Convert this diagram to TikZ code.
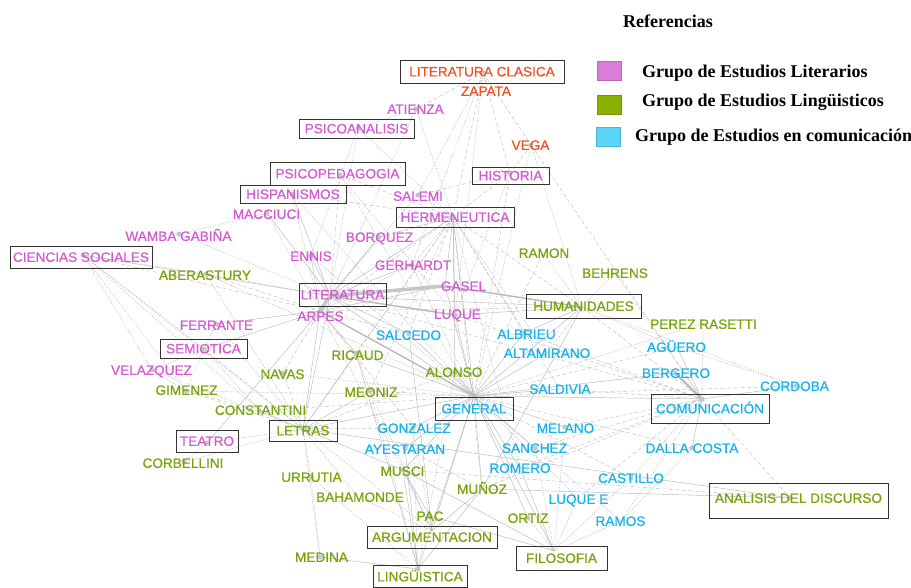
\documentclass[tikz,border=0pt]{standalone}
\usepackage{fontspec}
\setmainfont{Liberation Serif}
\newfontfamily\labfont[FakeBold=0.6]{Liberation Sans}
\definecolor{cpink}{RGB}{211,90,210}
\definecolor{cgreen}{RGB}{120,163,10}
\definecolor{cblue}{RGB}{22,178,235}
\definecolor{corange}{RGB}{240,80,34}
\definecolor{lpink}{RGB}{218,124,218}
\definecolor{lgreen}{RGB}{138,176,0}
\definecolor{lcyan}{RGB}{92,212,247}
\tikzset{
  lab/.style={font=\labfont\fontsize{13.6}{14}\selectfont, inner sep=0pt, text height=9.74pt, text depth=0pt, anchor=center},
  lp/.style={lab, text=cpink},
  lg/.style={lab, text=cgreen},
  lb/.style={lab, text=cblue},
  lo/.style={lab, text=corange},
  bx/.style={draw=black!80, line width=0.9pt},
  es/.style={draw=gray!55, line width=0.45pt},
  ed/.style={draw=gray!50, line width=0.45pt, dash pattern=on 4pt off 2.5pt},
  et/.style={draw=gray!60, line width=0.5pt, dash pattern=on 1pt off 1.5pt},
  em/.style={draw=gray!55, line width=1.4pt},
  eh/.style={draw=gray!45, line width=3.5pt},
  dotc/.style={fill=gray!45},
  legsq/.style={minimum width=24pt, minimum height=19pt, inner sep=0pt, anchor=north west},
  legtx/.style={font=\bfseries\fontsize{18}{20}\selectfont, anchor=base west, inner sep=0pt}
}
\begin{document}
\begin{tikzpicture}[x=1pt,y=-1pt]
\useasboundingbox (0,0) rectangle (911,587);
% ---------- dot coordinates
\coordinate (litclas) at (483,73);
\coordinate (zapata) at (487,86);
\coordinate (atienza) at (416,109);
\coordinate (psicoan) at (358,128);
\coordinate (psicoped) at (340,175);
\coordinate (hispan) at (292,194);
\coordinate (salemi) at (418,195);
\coordinate (historia) at (510,173);
\coordinate (vega) at (531,145);
\coordinate (herm) at (453,217);
\coordinate (macc) at (267,213);
\coordinate (wamba) at (179,234);
\coordinate (borq) at (379,237);
\coordinate (ennis) at (311,256);
\coordinate (cienc) at (83,255);
\coordinate (aber) at (206,274);
\coordinate (gerh) at (412,265);
\coordinate (gasel) at (445,286);
\coordinate (lit) at (330,296);
\coordinate (arpes) at (320,311);
\coordinate (luque) at (455,315);
\coordinate (salc) at (409,334);
\coordinate (ferr) at (216,324);
\coordinate (semio) at (204,349);
\coordinate (velaz) at (152,370);
\coordinate (gimen) at (186,391);
\coordinate (navas) at (283,373);
\coordinate (const) at (260,411);
\coordinate (teatro) at (207,443);
\coordinate (corb) at (184,462);
\coordinate (letras) at (303,429);
\coordinate (ricaud) at (356,353);
\coordinate (meoniz) at (370,391);
\coordinate (alonso) at (455,372);
\coordinate (gen) at (474,396);
\coordinate (gonz) at (413,428);
\coordinate (ayest) at (405,448);
\coordinate (musci) at (403,470);
\coordinate (urrut) at (311,477);
\coordinate (baham) at (358,497);
\coordinate (pac) at (430,516);
\coordinate (argum) at (432,531);
\coordinate (ling) at (418,569);
\coordinate (medina) at (320,557);
\coordinate (munoz) at (482,489);
\coordinate (ortiz) at (528,518);
\coordinate (filos) at (554,551);
\coordinate (romero) at (520,468);
\coordinate (sanchez) at (535,448);
\coordinate (melano) at (565,427);
\coordinate (saldiv) at (560,389);
\coordinate (albrieu) at (524,333);
\coordinate (altam) at (547,353);
\coordinate (human) at (582,307);
\coordinate (ramon) at (543,253);
\coordinate (behrens) at (615,273);
\coordinate (perez) at (703,323);
\coordinate (aguero) at (677,347);
\coordinate (bergero) at (675,373);
\coordinate (comun) at (702,399);
\coordinate (cordoba) at (796,386);
\coordinate (dalla) at (692,448);
\coordinate (castillo) at (631,478);
\coordinate (luquee) at (578,498);
\coordinate (ramos) at (621,521);
\coordinate (analisis) at (790,498);
% ---------- edges
\foreach \a/\b in {herm/gen, herm/luque, herm/lit, herm/alonso, herm/gasel, gen/saldiv, gen/bergero, gen/altam, gen/albrieu, gen/human, gen/melano, gen/sanchez, gen/romero, gen/munoz, gen/ortiz, gen/gonz, gen/ayest, gen/comun, gen/filos, gen/ling, gen/argum, gen/musci, lit/gen, lit/human, lit/letras, lit/salc, cienc/lit, macc/lit, hispan/lit, borq/lit, ennis/lit, ennis/arpes, gerh/lit, gasel/gen, gasel/arpes, arpes/letras, arpes/ferr, arpes/semio, arpes/teatro, arpes/ricaud, luque/gen, luque/human, const/letras, letras/gen, letras/ricaud, letras/meoniz, letras/musci, letras/analisis, ricaud/ling, ricaud/gen, alonso/gen, salc/gen, salc/argum, ayest/ling, musci/ling, musci/pac, musci/argum, musci/filos, pac/filos, pac/argum, munoz/ling, munoz/argum, munoz/human, munoz/analisis, medina/ling, romero/filos, albrieu/human, aguero/comun, cordoba/comun, comun/dalla}
  \draw[es] (\a) -- (\b);
\foreach \a/\b in {herm/salc, herm/arpes, herm/albrieu, herm/human, herm/borq, herm/historia, herm/meoniz, herm/munoz, herm/letras, litclas/atienza, litclas/herm, litclas/historia, litclas/vega, psicoped/herm, psicoped/lit, hispan/herm, vega/historia, vega/comun, historia/salemi, historia/gen, borq/herm, cienc/arpes, aber/arpes, lit/comun, arpes/navas, arpes/salc, arpes/human, arpes/gonz, luque/comun, semio/letras, gimen/letras, gimen/const, navas/letras, const/gen, letras/gonz, letras/alonso, meoniz/gen, ayest/munoz, musci/analisis, munoz/comun, romero/comun, sanchez/comun, melano/comun, saldiv/comun, albrieu/comun, human/comun, ramon/gen, gen/cordoba, gen/castillo, gen/dalla, gen/aguero, comun/analisis, comun/luquee}
  \draw[ed] (\a) -- (\b);
\foreach \a/\b in {herm/gerh, herm/altam, herm/salemi, herm/ricaud, herm/saldiv, herm/romero, litclas/zapata, litclas/salemi, litclas/gerh, litclas/luque, atienza/psicoan, atienza/herm, atienza/lit, psicoan/herm, psicoan/lit, psicoan/ennis, psicoped/luque, psicoped/gen, hispan/arpes, hispan/gen, vega/gen, vega/human, historia/luque, salemi/lit, macc/wamba, macc/arpes, wamba/lit, cienc/aber, cienc/gimen, cienc/velaz, cienc/semio, cienc/letras, cienc/const, aber/lit, aber/letras, aber/gen, borq/arpes, ennis/gen, gerh/arpes, gerh/gen, arpes/musci, ferr/semio, ferr/letras, semio/velaz, semio/gimen, semio/const, velaz/gimen, velaz/letras, gimen/gen, navas/gen, teatro/letras, teatro/corb, corb/letras, letras/urrut, letras/baham, letras/argum, letras/medina, ricaud/meoniz, meoniz/ling, meoniz/argum, alonso/ling, gonz/argum, gonz/ling, urrut/medina, urrut/ling, baham/argum, ortiz/filos, sanchez/filos, melano/filos, altam/human, human/behrens, human/ramon, human/aguero, human/cordoba, behrens/comun, perez/comun, aguero/cordoba, comun/castillo, comun/ramos, dalla/ramos, castillo/filos, luquee/filos, luquee/gen, ramos/filos, gen/ramos, gen/perez}
  \draw[et] (\a) -- (\b);
\draw[em] (lit) -- (luque);
\draw[em] (gasel) -- (human);
\draw[em] (arpes) -- (gen);
\draw[draw=gray!55, line width=2.2pt] (bergero) -- (comun);
\draw[eh] (lit) -- (gasel);
\draw[eh] (lit) -- (arpes);
% ---------- dots
\foreach \n in {litclas, atienza, psicoan, psicoped, hispan, salemi, historia, vega, herm, macc, wamba, borq, ennis, cienc, aber, gerh, luque, salc, ferr, semio, velaz, gimen, navas, const, teatro, corb, letras, ricaud, meoniz, alonso, gonz, ayest, musci, urrut, pac, ling, medina, ortiz, sanchez, melano, albrieu, bergero, comun, cordoba, dalla, castillo, analisis}
  \fill[dotc] (\n) circle (2.6pt);
% ---------- boxed labels
\node[bx, lo, minimum width=164pt, minimum height=23pt] (litclasL) at (482,71.5) {LITERATURA CLASICA};
\node[bx, lp, minimum width=115pt, minimum height=19pt] (psicoanL) at (356.5,128.5) {PSICOANALISIS};
\node[bx, lp, minimum width=135pt, minimum height=23pt] (psicopedL) at (337.5,173.5) {PSICOPEDAGOGIA};
\node[bx, lp, minimum width=106pt, minimum height=18pt] (hispanL) at (293,194) {HISPANISMOS};
\node[bx, lp, minimum width=77pt, minimum height=17pt] (historiaL) at (510.5,175.5) {HISTORIA};
\node[bx, lp, minimum width=118pt, minimum height=20pt] (hermL) at (455,217) {HERMENEUTICA};
\node[bx, lp, minimum width=142pt, minimum height=22pt] (ciencL) at (81,257) {CIENCIAS SOCIALES};
\node[bx, lp, minimum width=87pt, minimum height=23pt] (litL) at (342.5,294.5) {LITERATURA};
\node[bx, lg, minimum width=115pt, minimum height=24pt] (humanL) at (583.5,306) {HUMANIDADES};
\node[bx, lp, minimum width=87pt, minimum height=19pt] (semioL) at (203.5,348.5) {SEMIOTICA};
\node[bx, lp, minimum width=62pt, minimum height=22pt] (teatroL) at (207,441) {TEATRO};
\node[bx, lg, minimum width=68pt, minimum height=21pt] (letrasL) at (303,430.5) {LETRAS};
\node[bx, lb, minimum width=78pt, minimum height=23pt] (genL) at (474,408.5) {GENERAL};
\node[bx, lb, minimum width=118pt, minimum height=29pt] (comunL) at (710,408.5) {COMUNICACIÓN};
\node[bx, lg, minimum width=179pt, minimum height=35pt, text depth=5pt] (analisisL) at (798.5,500.5) {ANALISIS DEL DISCURSO};
\node[bx, lg, minimum width=130pt, minimum height=22pt] (argumL) at (432,537) {ARGUMENTACION};
\node[bx, lg, minimum width=91pt, minimum height=24pt] (filosL) at (561.5,558) {FILOSOFIA};
\node[bx, lg, minimum width=94pt, minimum height=22pt] (lingL) at (420,576.5) {LINGÜISTICA};
% ---------- plain labels
\node[lo] (zapataL) at (486,91) {ZAPATA};
\node[lo] (vegaL) at (530.5,145) {VEGA};
\node[lp] (atienzaL) at (415.5,109) {ATIENZA};
\node[lp] (salemiL) at (418,196) {SALEMI};
\node[lp] (maccL) at (266.5,214) {MACCIUCI};
\node[lp] (wambaL) at (178.5,236) {WAMBA GABIÑA};
\node[lp] (borqL) at (379.5,237) {BORQUEZ};
\node[lp] (ennisL) at (311,256) {ENNIS};
\node[lp] (gerhL) at (413,265) {GERHARDT};
\node[lp] (gaselL) at (463.5,286) {GASEL};
\node[lp] (arpesL) at (320.5,316) {ARPES};
\node[lp] (luqueL) at (457.5,314) {LUQUE};
\node[lp] (ferrL) at (216.5,325) {FERRANTE};
\node[lp] (velazL) at (151.5,370) {VELAZQUEZ};
\node[lg] (aberL) at (205,275) {ABERASTURY};
\node[lg] (ramonL) at (544,253) {RAMON};
\node[lg] (behrensL) at (615,273) {BEHRENS};
\node[lg] (perezL) at (703.5,324) {PEREZ RASETTI};
\node[lg] (ricaudL) at (357.5,355) {RICAUD};
\node[lg] (navasL) at (282.5,374) {NAVAS};
\node[lg] (meonizL) at (371,392) {MEONIZ};
\node[lg] (alonsoL) at (454,372) {ALONSO};
\node[lg] (gimenL) at (186.5,390) {GIMENEZ};
\node[lg] (constL) at (260.5,410) {CONSTANTINI};
\node[lg] (corbL) at (183,463) {CORBELLINI};
\node[lg] (urrutL) at (311.5,477) {URRUTIA};
\node[lg] (musciL) at (402.5,471) {MUSCI};
\node[lg] (bahamL) at (360,497) {BAHAMONDE};
\node[lg] (munozL) at (482,489) {MUÑOZ};
\node[lg] (pacL) at (430,516) {PAC};
\node[lg] (ortizL) at (528,518) {ORTIZ};
\node[lg] (medinaL) at (321.5,557) {MEDINA};
\node[lb] (salcL) at (408.5,335) {SALCEDO};
\node[lb] (albrieuL) at (526.5,334) {ALBRIEU};
\node[lb] (altamL) at (547,353) {ALTAMIRANO};
\node[lb] (saldivL) at (560,389) {SALDIVIA};
\node[lb] (agueroL) at (676.5,347) {AGÜERO};
\node[lb] (bergeroL) at (676,373) {BERGERO};
\node[lb] (cordobaL) at (794.5,386) {CORDOBA};
\node[lb] (gonzL) at (414,428) {GONZALEZ};
\node[lb] (ayestL) at (405,449) {AYESTARAN};
\node[lb] (melanoL) at (565.5,428) {MELANO};
\node[lb] (sanchezL) at (534.5,448) {SANCHEZ};
\node[lb] (romeroL) at (520,468) {ROMERO};
\node[lb] (dallaL) at (692,448) {DALLA COSTA};
\node[lb] (castilloL) at (631,478) {CASTILLO};
\node[lb] (luqueeL) at (578.5,499) {LUQUE E};
\node[lb] (ramosL) at (620.5,521) {RAMOS};
% ---------- legend
\node[legtx] (refL) at (623,27) {Referencias};
\node[legsq, fill=lpink, draw=lpink!85!black, line width=0.3pt] (sq1) at (597,61) {};
\node[legsq, fill=lgreen, draw=lgreen!85!black, line width=0.3pt] (sq2) at (597,95) {};
\node[legsq, fill=lcyan, draw=lcyan!85!black, line width=0.3pt] (sq3) at (596,127) {};
\node[legtx] (leg1) at (642,77) {Grupo de Estudios Literarios};
\node[legtx] (leg2) at (642,106) {Grupo de Estudios Lingüisticos};
\node[legtx] (leg3) at (635,141) {Grupo de Estudios en comunicación};
\end{tikzpicture}
\end{document}
